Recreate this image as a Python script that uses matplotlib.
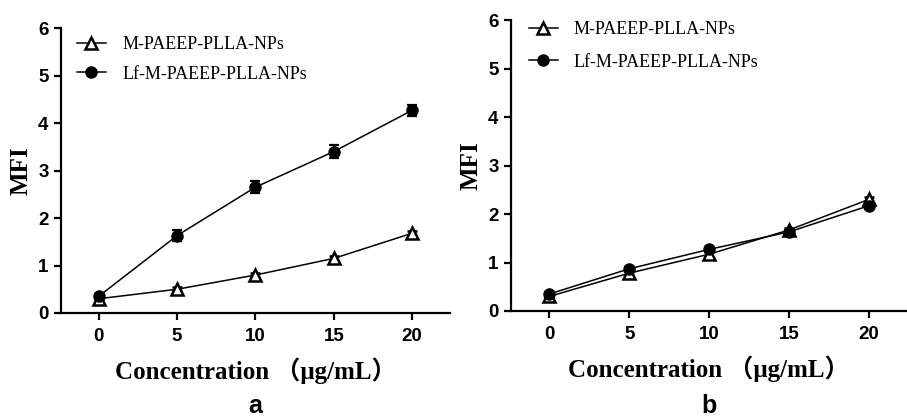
import matplotlib

matplotlib.use('Agg')
import matplotlib.pyplot as plt

conc = [0, 5, 10, 15, 20]
labels = ['M-PAEEP-PLLA-NPs', 'Lf-M-PAEEP-PLLA-NPs']

# panel a
a_np = [0.30, 0.50, 0.80, 1.15, 1.68]
a_np_err = [0.03, 0.04, 0.05, 0.05, 0.05]
a_lf = [0.35, 1.63, 2.65, 3.40, 4.27]
a_lf_err = [0.04, 0.12, 0.12, 0.13, 0.12]

# panel b
b_np = [0.30, 0.78, 1.17, 1.67, 2.30]
b_np_err = [0.03, 0.04, 0.05, 0.05, 0.05]
b_lf = [0.35, 0.87, 1.27, 1.63, 2.17]
b_lf_err = [0.03, 0.04, 0.04, 0.04, 0.05]

# letter, data, axes rect, legend anchor, legend row spacing
panels = [
    ('a', a_np, a_np_err, a_lf, a_lf_err, [0.0673, 0.253, 0.4287, 0.680], (0.041, 0.972), 0.7),
    ('b', b_np, b_np_err, b_lf, b_lf_err, [0.5634, 0.2578, 0.4366, 0.6942], (0.045, 0.997), 0.87),
]

fig = plt.figure(figsize=(9.07, 4.19), dpi=100)

label_font = {'family': ['Liberation Serif', 'Noto Sans CJK SC'], 'weight': 'bold', 'size': 18}

for letter, np_v, np_e, lf_v, lf_e, rect, leg_pos, spacing in panels:
    ax = fig.add_axes(rect)
    c1 = ax.errorbar(conc, np_v, yerr=np_e, color='black', lw=1.1, marker='^', ms=8,
                     mfc='white', mec='black', mew=1.8, capsize=3.5, elinewidth=1.6,
                     capthick=1.6)
    c2 = ax.errorbar(conc, lf_v, yerr=lf_e, color='black', lw=1.1, marker='o', ms=8,
                     mfc='black', mec='black', capsize=3.5, elinewidth=1.6,
                     capthick=1.6)

    ax.set_xlim(-2.4, 22.4)
    ax.set_ylim(0, 6)
    ax.set_xticks(conc)
    ax.set_yticks(range(0, 7))
    for s in ['top', 'right']:
        ax.spines[s].set_visible(False)
    for s in ['left', 'bottom']:
        ax.spines[s].set_linewidth(1.6)
    ax.tick_params(width=1.6, length=5, direction='out', pad=4)
    ax.tick_params(axis='x', pad=6)
    for t in ax.get_xticklabels() + ax.get_yticklabels():
        t.set_fontfamily('Liberation Sans')
        t.set_fontweight('bold')
        t.set_fontsize(13.5)

    ax.set_xlabel('Concentration （μg/mL）', fontdict=label_font, labelpad=9)
    ax.set_ylabel('MFI', fontdict=label_font, labelpad=4)

    ax.legend([c1[0], c2[0]], labels, loc='upper left', bbox_to_anchor=leg_pos,
              frameon=False, borderaxespad=0, borderpad=0,
              prop={'family': 'Liberation Serif', 'size': 13},
              handlelength=1.6, handletextpad=0.9, labelspacing=spacing)

    fig.text(rect[0] + rect[2] / 2, 0.003, letter, ha='center', va='bottom',
             fontsize=18, fontfamily='Liberation Sans', fontweight='bold')

plt.savefig('out.png', dpi=100)
